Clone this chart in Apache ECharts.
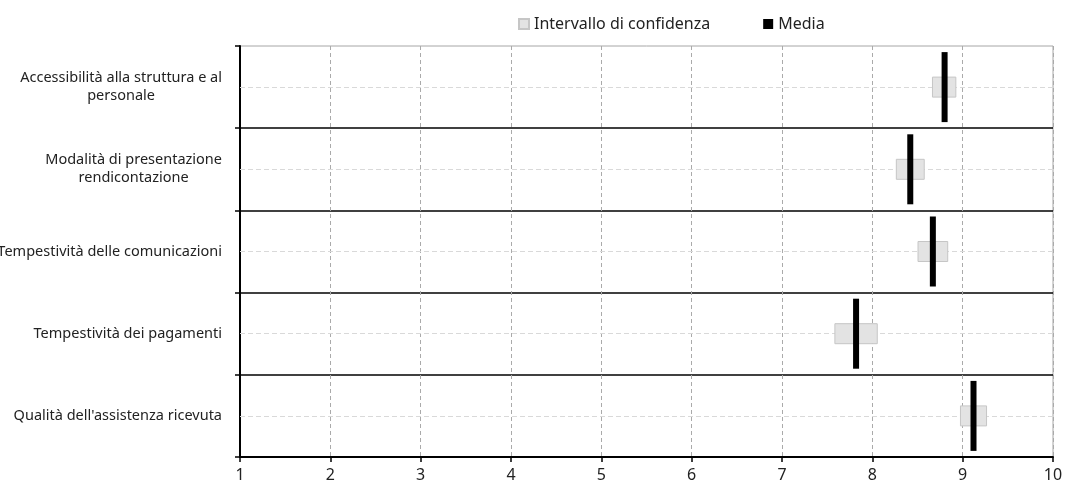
<!DOCTYPE html>
<html>
<head>
<meta charset="utf-8">
<script src="https://cdn.jsdelivr.net/npm/echarts@6/dist/echarts.min.js"></script>
<style>
  html, body { margin: 0; padding: 0; background: #fff; }
  #chart { width: 1066px; height: 496px; }
</style>
</head>
<body>
<div id="chart"></div>
<script>
// categorie (dall'alto in basso)
var categories = [
	'Accessibilità alla struttura e al\npersonale',
	'Modalità di presentazione\nrendicontazione',
	'Tempestività delle comunicazioni',
	'Tempestività dei pagamenti',
	"Qualità dell'assistenza ricevuta"
];
var media = [8.80, 8.42, 8.67, 7.82, 9.12];
var ciLow = [8.66, 8.26, 8.50, 7.58, 8.97];
var ciHigh = [8.93, 8.58, 8.84, 8.06, 9.27];
var xTicks = [1, 2, 3, 4, 5, 6, 7, 8, 9, 10];

var font = '"Noto Sans"';

(function()
{
	var mychart = echarts.init(document.getElementById('chart'));

	var ciRange = ciHigh.map(function(v, i) { return +(v - ciLow[i]).toFixed(2); });
	var mediaData = media.map(function(v, i) { return [v, i]; });

	var option = {
		animation: false,
		textStyle: { fontFamily: font },
		legend: {
			left: 513,
			top: 11,
			itemWidth: 10,
			itemHeight: 10,
			itemGap: 53,
			icon: 'rect',
			textStyle: { fontSize: 16, color: '#222', fontFamily: font },
			data: ['Intervallo di confidenza', 'Media']
		},
		grid: {
			left: 240,
			right: 13,
			top: 46,
			bottom: 39,
			outerBoundsMode: 'none', // lascia tagliare l'etichetta lunga come nell'originale
			containLabel: false,
			show: true,
			borderColor: '#a6a6a6',
			borderWidth: 1
		},
		xAxis: {
			type: 'value',
			min: xTicks[0],
			max: xTicks[xTicks.length - 1],
			interval: 1,
			axisLine: { show: true, lineStyle: { color: '#000', width: 2 } },
			axisTick: { show: true, length: 5, lineStyle: { color: '#000', width: 1.5 } },
			axisLabel: { fontSize: 16, color: '#222', margin: 10, fontFamily: font },
			splitLine: { show: true, lineStyle: { color: '#aaa', type: [4, 3], width: 1 } }
		},
		yAxis: {
			type: 'category',
			inverse: true,
			data: categories,
			axisLine: { show: true, lineStyle: { color: '#000', width: 2 } },
			axisTick: { show: true, length: 5, lineStyle: { color: '#000', width: 1.5 } },
			axisLabel: {
				margin: 18,
				fontSize: 14.5,
				color: '#222',
				lineHeight: 18,
				formatter: function(value) {
					return value.split('\n').map(function(s) { return '{c|' + s + '}'; }).join('\n');
				},
				rich: {
					c: { align: 'center', fontSize: 14.5, color: '#222', lineHeight: 18, fontFamily: font }
				}
			},
			splitLine: {
				show: true,
				showMinLine: false,
				showMaxLine: false,
				lineStyle: { color: '#000', width: 1.5 }
			}
		},
		series: [
			{
				name: 'base',
				type: 'bar',
				stack: 'ci',
				barWidth: 21,
				silent: true,
				itemStyle: { color: 'transparent' },
				data: ciLow,
				z: 2,
				markLine: {
					silent: true,
					symbol: 'none',
					z: 1,
					label: { show: false },
					lineStyle: { color: '#d9d9d9', type: [5, 3], width: 1 },
					data: categories.map(function(c) { return { yAxis: c }; })
				}
			},
			{
				name: 'Intervallo di confidenza',
				type: 'bar',
				stack: 'ci',
				barWidth: 21,
				itemStyle: { color: '#e3e3e3', borderColor: '#c6c6c6', borderWidth: 1 },
				data: ciRange,
				z: 3
			},
			{
				name: 'Media',
				type: 'scatter',
				symbol: 'rect',
				symbolSize: [6, 70],
				itemStyle: { color: '#000', opacity: 1 },
				data: mediaData,
				z: 4
			}
		]
	};
	mychart.setOption(option);
})();
</script>
</body>
</html>
